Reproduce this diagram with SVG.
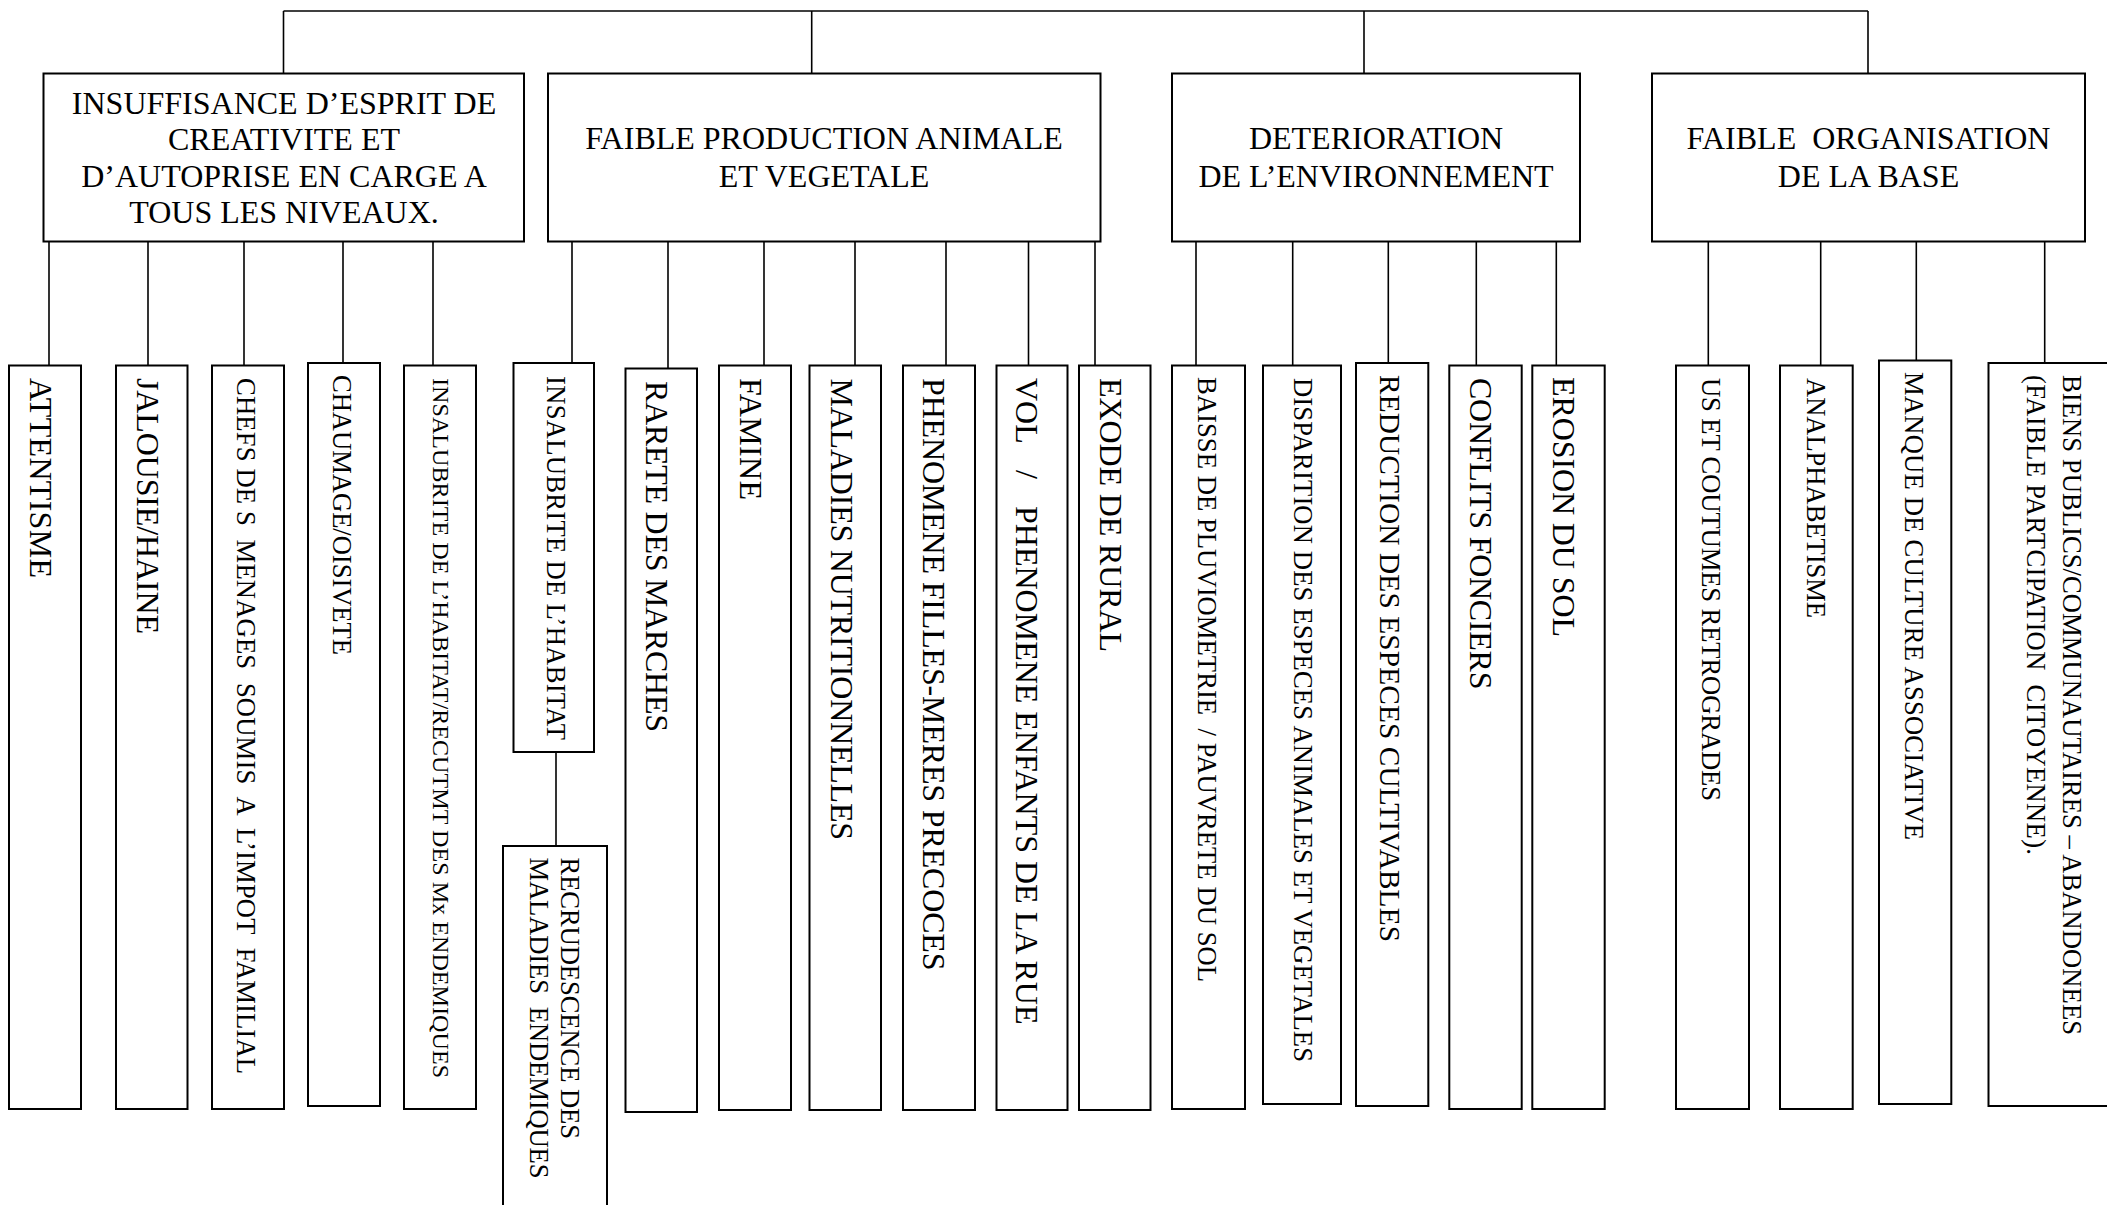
<svg xmlns="http://www.w3.org/2000/svg" width="2107" height="1205" viewBox="0 0 2107 1205" xml:space="preserve">
<style>
.box{fill:#fff;stroke:#000;stroke-width:2}
.conn line{stroke:#000;stroke-width:1.6}
text{font-family:"Liberation Serif","Times New Roman",serif;fill:#000;white-space:pre}
.h{font-size:32px;text-anchor:middle}
.s32{font-size:32px}
.s29{font-size:29.3px}
.s27{font-size:26.6px}
.s24{font-size:24px}
</style>
<rect width="2107" height="1205" fill="#fff"/>
<g id="connectors" class="conn">
<line x1="283.5" y1="11" x2="1868" y2="11"/>
<line x1="283.5" y1="11" x2="283.5" y2="74"/>
<line x1="811.7" y1="11" x2="811.7" y2="74"/>
<line x1="1364" y1="11" x2="1364" y2="74"/>
<line x1="1868" y1="11" x2="1868" y2="74"/>
<line x1="49" y1="242" x2="49" y2="365.5"/>
<line x1="148" y1="242" x2="148" y2="365.5"/>
<line x1="244" y1="242" x2="244" y2="365.5"/>
<line x1="343" y1="242" x2="343" y2="363"/>
<line x1="433" y1="242" x2="433" y2="365.5"/>
<line x1="572" y1="242" x2="572" y2="363"/>
<line x1="668" y1="242" x2="668" y2="368.5"/>
<line x1="764" y1="242" x2="764" y2="365.5"/>
<line x1="855" y1="242" x2="855" y2="365.5"/>
<line x1="946" y1="242" x2="946" y2="365.5"/>
<line x1="1028.5" y1="242" x2="1028.5" y2="365.5"/>
<line x1="1095" y1="242" x2="1095" y2="365.5"/>
<line x1="1196" y1="242" x2="1196" y2="365.5"/>
<line x1="1292.7" y1="242" x2="1292.7" y2="365.5"/>
<line x1="1388.3" y1="242" x2="1388.3" y2="363"/>
<line x1="1476.3" y1="242" x2="1476.3" y2="365.5"/>
<line x1="1556.3" y1="242" x2="1556.3" y2="365.5"/>
<line x1="1708.3" y1="242" x2="1708.3" y2="365.5"/>
<line x1="1820.7" y1="242" x2="1820.7" y2="365.5"/>
<line x1="1916.3" y1="242" x2="1916.3" y2="360.5"/>
<line x1="2044.7" y1="242" x2="2044.7" y2="363"/>
<line x1="556" y1="752" x2="556" y2="846"/>
</g>
<g id="p1"><rect class="box" x="43.5" y="73.5" width="480.5" height="168"/>
<text class="h" x="284" y="113.5">INSUFFISANCE D’ESPRIT DE</text>
<text class="h" x="284" y="150">CREATIVITE ET</text>
<text class="h" x="284" y="186.5">D’AUTOPRISE EN CARGE A</text>
<text class="h" x="284" y="223">TOUS LES NIVEAUX.</text></g>
<g id="p2"><rect class="box" x="548" y="73.5" width="552.5" height="168"/>
<text class="h" x="824" y="149">FAIBLE PRODUCTION ANIMALE</text>
<text class="h" x="824" y="186.5">ET VEGETALE</text></g>
<g id="p3"><rect class="box" x="1172" y="73.5" width="408" height="168"/>
<text class="h" x="1376" y="149">DETERIORATION</text>
<text class="h" x="1376" y="186.5">DE L’ENVIRONNEMENT</text></g>
<g id="p4"><rect class="box" x="1652" y="73.5" width="433" height="168"/>
<text class="h" x="1868.5" y="149">FAIBLE  ORGANISATION</text>
<text class="h" x="1868.5" y="186.5">DE LA BASE</text></g>

<g id="c1"><rect class="box" x="9" y="365.5" width="72" height="743.5"/>
<text class="s32" transform="translate(30,378) rotate(90)" textLength="200">ATTENTISME</text></g>
<g id="c2"><rect class="box" x="116" y="365.5" width="71.5" height="743.5"/>
<text class="s32" transform="translate(137,378) rotate(90)" textLength="256">JALOUSIE/HAINE</text></g>
<g id="c3"><rect class="box" x="212" y="365.5" width="72" height="743.5"/>
<text class="s27" transform="translate(237,378) rotate(90)" textLength="696">CHEFS DE S  MENAGES  SOUMIS  A  L’IMPOT  FAMILIAL</text></g>
<g id="c4"><rect class="box" x="308" y="363" width="72" height="743"/>
<text class="s27" transform="translate(333,375) rotate(90)" textLength="280">CHAUMAGE/OISIVETE</text></g>
<g id="c5"><rect class="box" x="404" y="365.5" width="72" height="743.5"/>
<text class="s24" transform="translate(432.5,378) rotate(90)" textLength="700">INSALUBRITE DE L’HABITAT/RECUTMT DES Mx ENDEMIQUES</text></g>
<g id="c6"><rect class="box" x="513.5" y="363" width="80.5" height="389"/>
<text class="s27" transform="translate(547,376) rotate(90)" textLength="364">INSALUBRITE DE L’HABITAT</text></g>
<g id="c6a"><rect class="box" x="503" y="846" width="104" height="380"/>
<text class="s27" transform="translate(561,857.5) rotate(90)" textLength="281.5">RECRUDESCENCE DES</text>
<text class="s27" transform="translate(529.5,857.5) rotate(90)" textLength="321">MALADIES  ENDEMIQUES</text></g>
<g id="c7"><rect class="box" x="625.5" y="368.5" width="71.5" height="743.5"/>
<text class="s32" transform="translate(646,381) rotate(90)" textLength="351">RARETE DES MARCHES</text></g>
<g id="c8"><rect class="box" x="719" y="365.5" width="72" height="744.5"/>
<text class="s32" transform="translate(740,378) rotate(90)" textLength="122">FAMINE</text></g>
<g id="c9"><rect class="box" x="809.5" y="365.5" width="71.5" height="744.5"/>
<text class="s32" transform="translate(830.5,378.5) rotate(90)" textLength="461.5">MALADIES NUTRITIONNELLES</text></g>
<g id="c10"><rect class="box" x="903" y="365.5" width="72" height="744.5"/>
<text class="s32" transform="translate(923,378) rotate(90)" textLength="592.5">PHENOMENE FILLES-MERES PRECOCES</text></g>
<g id="c11"><rect class="box" x="996.5" y="365.5" width="71" height="744.5"/>
<text class="s32" transform="translate(1016,378) rotate(90)"><tspan x="0">VOL</tspan><tspan x="92">/</tspan><tspan x="128">PHENOMENE ENFANTS DE LA RUE</tspan></text></g>
<g id="c12"><rect class="box" x="1079" y="365.5" width="71.5" height="744.5"/>
<text class="s32" transform="translate(1100,378) rotate(90)" textLength="274">EXODE DE RURAL</text></g>
<g id="c13"><rect class="box" x="1172" y="365.5" width="73" height="743.5"/>
<text class="s27" transform="translate(1198,377) rotate(90)" textLength="605">BAISSE DE PLUVIOMETRIE  / PAUVRETE DU SOL</text></g>
<g id="c14"><rect class="box" x="1263" y="365.5" width="78" height="738.5"/>
<text class="s27" transform="translate(1294,378) rotate(90)" textLength="684">DISPARITION DES ESPECES ANIMALES ET VEGETALES</text></g>
<g id="c15"><rect class="box" x="1356" y="363" width="72.3" height="743"/>
<text class="s29" transform="translate(1380,375) rotate(90)" textLength="567">REDUCTION DES ESPECES CULTIVABLES</text></g>
<g id="c16"><rect class="box" x="1449.3" y="365.5" width="72.4" height="743.5"/>
<text class="s32" transform="translate(1470,378) rotate(90)" textLength="311.5">CONFLITS FONCIERS</text></g>
<g id="c17"><rect class="box" x="1532.3" y="365.5" width="72.4" height="743.5"/>
<text class="s32" transform="translate(1553,377) rotate(90)" textLength="260">EROSION DU SOL</text></g>
<g id="c18"><rect class="box" x="1676" y="365.5" width="73" height="743.5"/>
<text class="s27" transform="translate(1702,378) rotate(90)" textLength="423">US ET COUTUMES RETROGRADES</text></g>
<g id="c19"><rect class="box" x="1780" y="365.5" width="72.7" height="743.5"/>
<text class="s27" transform="translate(1807,378) rotate(90)" textLength="240">ANALPHABETISME</text></g>
<g id="c20"><rect class="box" x="1879" y="360.5" width="72.3" height="743.5"/>
<text class="s27" transform="translate(1905,372) rotate(90)" textLength="468">MANQUE DE CULTURE ASSOCIATIVE</text></g>
<g id="c21"><rect class="box" x="1988.5" y="363" width="130" height="743"/>
<text class="s27" transform="translate(2063,375) rotate(90)" textLength="660">BIENS PUBLICS/COMMUNAUTAIRES – ABANDONEES</text>
<text class="s27" transform="translate(2027,375) rotate(90)" textLength="480">(FAIBLE PARTCIPATION  CITOYENNE).</text></g>
</svg>
